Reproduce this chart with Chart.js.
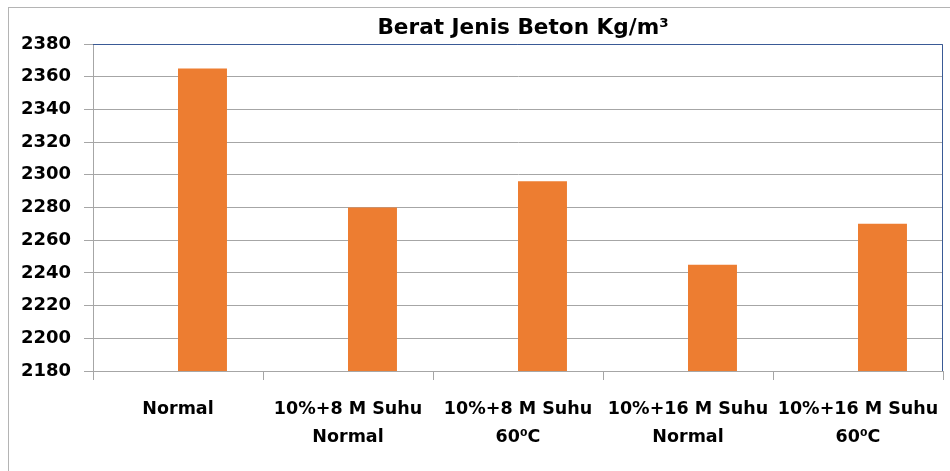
<!DOCTYPE html>
<html>
<head>
<meta charset="utf-8">
<script src="https://cdn.jsdelivr.net/npm/chart.js@4/dist/chart.umd.min.js"></script>
<style>
  html, body { margin: 0; padding: 0; background: #fff; }
  #wrap { width: 950px; height: 471px; }
</style>
</head>
<body>
<div id="wrap"><canvas id="beratChart" width="950" height="471"></canvas></div>
<script>
// data grafik
const judul = 'Berat Jenis Beton Kg/m³';
const kategori = [
  'Normal',
  ['10%+8 M Suhu', 'Normal'],
  ['10%+8 M Suhu', '60⁰C'],
  ['10%+16 M Suhu', 'Normal'],
  ['10%+16 M Suhu', '60⁰C']
];
// seri pertama di file Excel aslinya kosong, jadi bar bergeser ke kanan
const seriKosong = [null, null, null, null, null];
const beratJenis = [2365, 2280, 2296, 2245, 2270];
const yMin = 2180;
const yMax = 2380;
const yStep = 20;

const warnaBar = '#ED7D31';
const warnaGrid = '#A6A6A6';
const warnaBingkai = '#3A5A96';
const font = 'DejaVu Sans';

// judul + bingkai plot (atas & kanan biru, bingkai luar abu)
const dekorasi = {
  id: 'dekorasi',
  afterDraw(chart) {
    const { ctx, chartArea: a } = chart;
    ctx.save();
    ctx.strokeStyle = '#B4B4B4';
    ctx.lineWidth = 1;
    ctx.strokeRect(8.5, 7.5, 1200, 1200);

    ctx.strokeStyle = warnaBingkai;
    ctx.beginPath();
    ctx.moveTo(a.left, a.top + 0.5);
    ctx.lineTo(a.right - 0.5, a.top + 0.5);
    ctx.lineTo(a.right - 0.5, a.bottom);
    ctx.stroke();

    ctx.fillStyle = '#000';
    ctx.font = 'bold 21.6px "' + font + '"';
    ctx.textAlign = 'center';
    ctx.textBaseline = 'alphabetic';
    ctx.fillText(judul, (a.left + a.right) / 2 + 5, 34);
    ctx.restore();
  }
};

const ctx = document.getElementById('beratChart').getContext('2d');
new Chart(ctx, {
  type: 'bar',
  data: {
    labels: kategori,
    datasets: [{
      label: 'Seri 1',
      data: seriKosong,
      backgroundColor: warnaBar,
      borderWidth: 0
    }, {
      label: judul,
      data: beratJenis,
      backgroundColor: warnaBar,
      borderWidth: 0
    }]
  },
  options: {
    responsive: false,
    animation: false,
    datasets: { bar: { barPercentage: 1.0, categoryPercentage: 0.576 } },
    layout: { padding: { left: 0, top: 44, right: 7, bottom: 0 } },
    plugins: {
      legend: { display: false },
      tooltip: { enabled: false },
      title: { display: false }
    },
    scales: {
      x: {
        afterFit(scale) {
          scale.height = 100;
          scale.paddingLeft = 0;
          scale.paddingRight = 0;
        },
        grid: { drawOnChartArea: false, drawTicks: true, tickLength: 9, color: warnaGrid },
        border: { color: warnaGrid },
        ticks: {
          color: '#000',
          padding: 15,
          maxRotation: 0,
          autoSkip: false,
          font: { family: font, size: 17.5, weight: 'bold', lineHeight: 1.62 }
        }
      },
      y: {
        min: yMin,
        max: yMax,
        afterFit(scale) { scale.width = 93; },
        grid: { color: warnaGrid, tickLength: 9 },
        border: { color: warnaGrid },
        ticks: {
          stepSize: yStep,
          color: '#000',
          padding: 13,
          callback: (v) => String(v),
          font: { family: font, size: 18, weight: 'bold' }
        }
      }
    }
  },
  plugins: [dekorasi]
});
</script>
</body>
</html>
